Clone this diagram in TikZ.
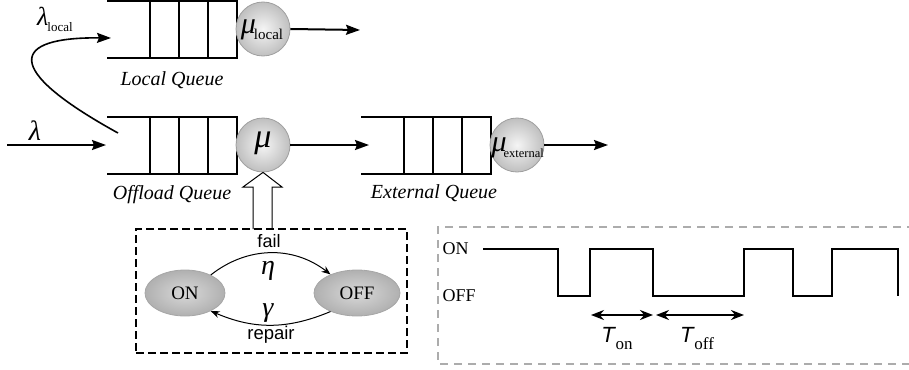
\documentclass[tikz,border=0pt]{standalone}
\usepackage{fontspec}
\setmainfont{Liberation Serif}
\setsansfont{Liberation Sans}
\usetikzlibrary{arrows.meta,shapes.geometric}
\newcommand\fsz[1]{\fontsize{#1}{#1}\selectfont}
\tikzset{
  qline/.style={line width=1.6pt},
  tip/.style={-{Stealth[length=14pt,width=10pt,inset=2pt]}},
  flow/.style={line width=2pt,tip},
  server/.style={circle,minimum size=54pt,inner sep=0pt,draw=gray!75,line width=0.8pt,
    inner color=gray!8,outer color=gray!50},
  state/.style={ellipse,minimum height=46pt,inner sep=0pt,draw=gray!70,line width=0.8pt,
    inner color=gray!30,outer color=gray!62,font=\fsz{19}},
  qlabel/.style={font=\fsz{20}\itshape},
  trans/.style={line width=1pt,-{Stealth[length=9pt,width=7pt]}},
  dbl/.style={line width=2pt,{Stealth[length=13pt,width=10pt]}-{Stealth[length=13pt,width=10pt]}},
  queue/.pic={
    \draw[qline] (0,0) -- (130,0) -- (130,57) -- (0,57);
    \foreach \x in {43,72,101} \draw[qline] (\x,0) -- (\x,57);
  }
}
\begin{document}
\begin{tikzpicture}[x=1pt,y=-1pt]
\useasboundingbox (0,0) rectangle (909,369);
% queues
\pic at (107,1) {queue};
\pic at (107,117) {queue};
\pic at (361,117) {queue};
\node[qlabel] (lql) at (172,80) {Local Queue};
\node[qlabel] (oql) at (172,195) {Offload Queue};
\node[qlabel] (eql) at (434,193) {External Queue};
% servers
\node[server] (mul) at (263,29) {};
\node (mull) at (262,30) {\fsz{30}\itshape μ\kern-2pt\raisebox{-6pt}{\upshape\fsz{15}local}};
\node[server] (mu) at (263,145) {};
\node at (263,143) {\fsz{34}\itshape μ};
\node[server] (mue) at (517,145) {};
\node[anchor=west] (muel) at (488,148) {\fsz{30}\itshape μ\kern-3pt\raisebox{-6pt}{\upshape\fsz{12.5}external}};
% coordinates
\coordinate (lqin) at (111,38);
\coordinate (lqout) at (360,30);
\coordinate (oqin) at (106,145);
\coordinate (src) at (7,145);
\coordinate (split) at (118,133);
\coordinate (eqin) at (369,145);
\coordinate (eqout) at (608,145);
% flows
\draw[flow] (src) -- (oqin);
\node (lam) at (35,131) {\fsz{28}\itshape λ};
\draw[line width=1.6pt,tip] (split) .. controls (0,68) and (12,37) .. (lqin);
\node (laml) at (55,19) {\fsz{26}\itshape λ\kern-1pt\raisebox{-6pt}{\upshape\fsz{13}local}};
\draw[flow] (mul.east) -- (lqout);
\draw[flow] (mu.east) -- (eqin);
\draw[flow] (mue.east) -- (eqout);
% hollow arrow
\draw[line width=1pt,fill=white] (253,229) -- (253,187) -- (243,187) -- (mu.south) -- (282,187) -- (272,187) -- (272,229);
% state machine
\node[draw,line width=1.6pt,dash pattern=on 8pt off 4pt,minimum width=271pt,minimum height=124pt,inner sep=0pt] (fsm) at (271.5,291) {};
\node[state,minimum width=80pt] (on) at (185,293) {ON};
\node[state,minimum width=86pt] (off) at (357,293) {OFF};
\draw[trans] (on.35) to[bend left=38] (off.145);
\draw[trans] (off.215) to[bend left=23] (on.325);
\node[font=\sffamily\fsz{18}] (fail) at (269,241) {fail};
\node (eta) at (268,271) {\fsz{28}\itshape η};
\node (gam) at (268,313) {\fsz{28}\itshape γ};
\node[font=\sffamily\fsz{18.5}] (rep) at (271,335) {repair};
% timing
\draw[gray!65,line width=1.5pt,dash pattern=on 8pt off 6pt] (915,227) -- (438,227) -- (438,364) -- (915,364);
\node[anchor=west,font=\fsz{18}] (onl) at (439,249) {ON};
\node[anchor=west,font=\fsz{18}] (offl) at (439,296) {OFF};
\draw[line width=1.8pt] (483,249) -- (558,249) -- (558,296) -- (590,296) -- (590,249) -- (653,249) -- (653,296) -- (744,296) -- (744,249) -- (793,249) -- (793,296) -- (832,296) -- (832,249) -- (898,249) -- (898,296);
\coordinate (a1) at (591,315);
\coordinate (a2) at (653,315);
\coordinate (a3) at (656,315);
\coordinate (a4) at (744,315);
\draw[dbl] (a1) -- (a2);
\draw[dbl] (a3) -- (a4);
\node (ton) at (617,339) {\sffamily\itshape\fsz{22}T\kern1pt\raisebox{-7pt}{\rmfamily\upshape\fsz{17}on}};
\node (toff) at (697,339) {\sffamily\itshape\fsz{22}T\kern1pt\raisebox{-7pt}{\rmfamily\upshape\fsz{17}off}};
\end{tikzpicture}
\end{document}
